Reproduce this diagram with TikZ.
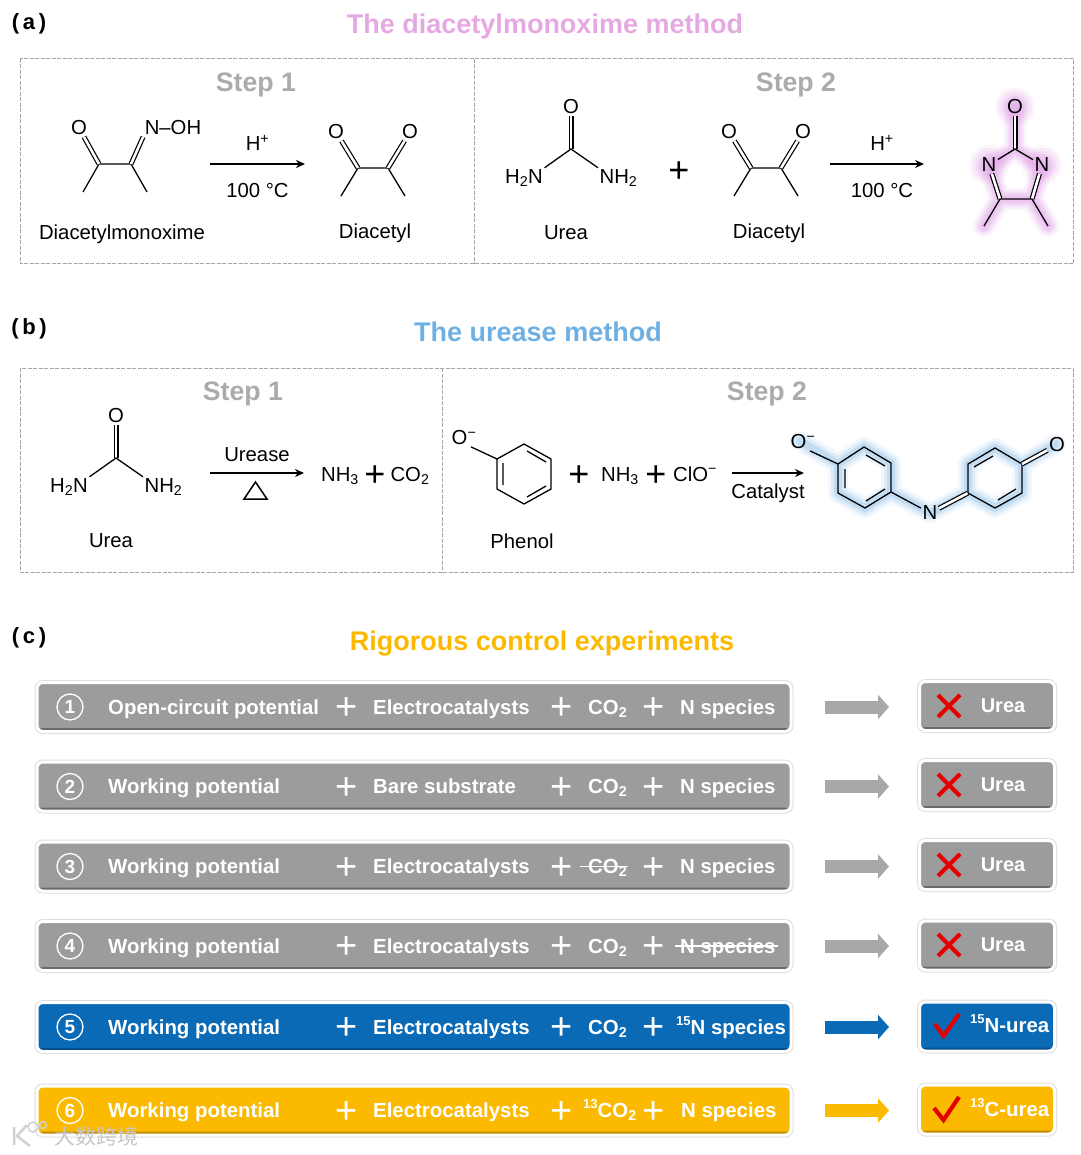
\documentclass[tikz,border=0pt]{standalone}
\usepackage{fontspec}
\setmainfont{Liberation Sans}
\newfontfamily\cjkfont{Noto Sans CJK SC}
\usetikzlibrary{arrows.meta}

\definecolor{barG}{HTML}{9C9C9C}
\definecolor{barGd}{HTML}{6A6A6A}
\definecolor{barB}{HTML}{0A6AB6}
\definecolor{barBd}{HTML}{064E8C}
\definecolor{barY}{HTML}{FBB900}
\definecolor{barYd}{HTML}{C08E00}
\definecolor{arrG}{HTML}{A8A8A8}
\definecolor{pinkglow}{HTML}{DFA0E6}
\definecolor{blueglow}{HTML}{8FC0EA}
\definecolor{ttlpink}{HTML}{E6A8E2}
\definecolor{ttlblue}{HTML}{6FB0E2}

\newcommand{\txtsize}{\fontsize{20.3}{24}\selectfont}
\newcommand{\isotop}[1]{\raisebox{0.42em}{\fontsize{13}{13}\selectfont #1}}

\tikzset{
  lbl/.style={font=\txtsize, inner sep=1pt},
  atom/.style={font=\txtsize, inner sep=1.5pt},
  bond/.style={line width=1.3pt},
  dbl/.style={line width=1.2pt, double, double distance=2.6pt},
  rxn/.style={line width=2pt, -{Stealth[length=9pt,width=8pt]}},
  bigplus/.style={font=\fontsize{36}{36}\selectfont, inner sep=0pt},
  ttl/.style={font=\fontsize{27}{30}\bfseries\selectfont},
  steplbl/.style={font=\fontsize{26.7}{30}\bfseries\selectfont, text=black!33},
  panel/.style={font=\fontsize{22}{26}\bfseries\selectfont},
  dashbox/.style={draw=black!35, line width=1pt, dash pattern=on 4pt off 1.5pt},
  barbox/.style={rounded corners=6pt, fill=bar#1, draw=white, line width=3pt,
    preaction={draw=black!13, line width=5pt},
    path picture={\fill[bar#1d] ([yshift=3.5pt]path picture bounding box.south west)
      rectangle (path picture bounding box.south east);}},
  bartxt/.style={anchor=base west, yshift=-7pt, text=white, inner sep=0pt,
    font=\fontsize{20.4}{24}\bfseries\selectfont},
  barplus/.style={text=white, inner sep=0pt, font=\fontsize{38}{38}\selectfont},
  numc/.style={circle, draw=white, line width=1.3pt, minimum size=26pt, inner sep=0pt,
    text=white, font=\fontsize{19}{20}\bfseries\selectfont},
  strike/.style={draw=white, line width=1.4pt},
  markred/.style={draw=red!90!black, line width=4.2pt, line join=miter},
}

% one diacetyl unit, #3 is the prefix of its names
\newcommand{\diacetylmol}[3]{
  \begin{scope}[shift={(#1,#2)}]
    \coordinate (#3cl) at (-15,0);
    \coordinate (#3cr) at (15,0);
    \coordinate (#3ml) at (-32,28);
    \coordinate (#3mr) at (32,28);
    \node[atom] (#3ol) at (-37,-36) {O};
    \node[atom] (#3or) at (37,-36) {O};
    \draw[bond] (#3ml) -- (#3cl) -- (#3cr) -- (#3mr);
    \draw[dbl] (#3cl) -- (#3ol);
    \draw[dbl] (#3cr) -- (#3or);
  \end{scope}
}
% one urea unit
\newcommand{\ureamol}[3]{
  \begin{scope}[shift={(#1,#2)}]
    \coordinate (#3c) at (0,0);
    \node[atom] (#3o) at (0,-42) {O};
    \node[atom] (#3nl) at (-47,29) {H\textsubscript{2}N};
    \node[atom] (#3nr) at (47.5,29) {NH\textsubscript{2}};
    \draw[dbl] (#3c) -- (#3o);
    \draw[bond] (#3nl.north east) -- (#3c) -- (#3nr.north west);
  \end{scope}
}

\begin{document}
\begin{tikzpicture}[x=1pt, y=-1pt]
  \useasboundingbox (0,0) rectangle (1080,1155);

  % panel headings
  \node[panel] (pa) at (29,24) {(\,a\,)};
  \node[panel] (pb) at (29,329) {(\,b\,)};
  \node[panel] (pc) at (29,638) {(\,c\,)};
  \node[ttl, text=ttlpink] (ta) at (545,27) {The diacetylmonoxime method};
  \node[ttl, text=ttlblue] (tb) at (538,332) {The urease method};
  \node[ttl, text=barY] (tc) at (542,644) {Rigorous control experiments};

  % dashed frames
  \draw[dashbox] (20,59) rectangle (1073,264);
  \draw[dashbox] (474,59) -- (474,264);
  \draw[dashbox] (20,368) rectangle (1073,572);
  \draw[dashbox] (442,368) -- (442,572);
  \node[steplbl] (s1a) at (256,85) {Step 1};
  \node[steplbl] (s2a) at (796,85) {Step 2};
  \node[steplbl] (s1b) at (243,394) {Step 1};
  \node[steplbl] (s2b) at (767,394) {Step 2};

  % (a) step 1
  \coordinate (dmcl) at (99,164);
  \coordinate (dmcr) at (131,164);
  \node[atom] (dmo) at (79,128) {O};
  \node[atom] (dmn) at (173,128) {N–OH};
  \draw[bond] (83,192) -- (dmcl) -- (dmcr) -- (147,192);
  \draw[dbl] (dmcl) -- (dmo);
  \draw[dbl] (dmcr) -- (dmn.south west);
  \node[lbl] (ldm) at (122,234) {Diacetylmonoxime};
  \coordinate (a1s) at (210,164);
  \coordinate (a1e) at (305,164);
  \draw[rxn] (a1s) -- node[lbl, above=11pt] {H\textsuperscript{+}} node[lbl, below=17pt] {100 °C} (a1e);
  \diacetylmol{373}{168}{da}
  \node[lbl] (lda) at (375,233) {Diacetyl};

  % (a) step 2
  \ureamol{571}{149}{ua}
  \node[lbl] (lua) at (566,233) {Urea};
  \node[bigplus] (pl1) at (679,172) {+};
  \diacetylmol{766}{168}{db}
  \node[lbl] (ldb) at (769,233) {Diacetyl};
  \coordinate (a2s) at (830,164);
  \coordinate (a2e) at (924,164);
  \draw[rxn] (a2s) -- node[lbl, above=11pt, xshift=5pt] {H\textsuperscript{+}} node[lbl, below=17pt, xshift=5pt] {100 °C} (a2e);

  % pink product
  \foreach \w/\o in {22/0.12, 17/0.18, 12/0.25, 7/0.3}
    \draw[pinkglow, line width=\w pt, opacity=\o, line cap=round, line join=round]
      (1015,107) -- (1015,149) (989,167) -- (1015,149) -- (1042,167)
      (989,167) -- (1000,199) -- (1032,199) -- (1042,167)
      (984,226) -- (1000,199) (1032,199) -- (1048,226);
  \foreach \r/\o in {20/0.1, 17/0.14, 14/0.18, 11/0.2}
    \fill[pinkglow, opacity=\o] (1015,107) circle (\r pt) (989,165) circle (\r pt) (1042,165) circle (\r pt);
  \coordinate (imc) at (1015,149);
  \coordinate (imcl) at (1000,199);
  \coordinate (imcr) at (1032,199);
  \node[atom] (imo) at (1015,107) {O};
  \node[atom] (imnl) at (989,165) {N};
  \node[atom] (imnr) at (1042,165) {N};
  \draw[dbl] (imc) -- (imo);
  \draw[bond] (imnl) -- (imc) -- (imnr);
  \draw[dbl] (imnl) -- (imcl);
  \draw[dbl] (imnr) -- (imcr);
  \draw[bond] (984,226) -- (imcl) -- (imcr) -- (1048,226);

  % (b) step 1
  \ureamol{116}{458}{ub}
  \node[lbl] (lub) at (111,541) {Urea};
  \coordinate (a3s) at (210,473);
  \coordinate (a3e) at (304,473);
  \draw[rxn] (a3s) -- node[lbl, above=9pt] {Urease} (a3e);
  \draw[line width=1.5pt, line join=miter] (244,499) -- (255.5,482) -- (267,499) -- cycle;
  \node[lbl] (nh1) at (340,476) {NH\textsubscript{3}};
  \node[bigplus] (pl2) at (375,476) {+};
  \node[lbl] (co1) at (410,476) {CO\textsubscript{2}};

  % (b) step 2, phenol
  \node[atom] (pho) at (464,438) {O\textsuperscript{−}};
  \draw[bond] ([xshift=-7pt]pho.south east) -- (497,459);
  \draw[bond] (497,459) -- (524,444) -- (551,459) -- (551,489) -- (524,504) -- (497,489) -- cycle;
  \draw[bond] (503,463) -- (503,485) (527,451) -- (546,462) (546,486) -- (527,497);
  \node[lbl] (lph) at (522,541) {Phenol};
  \node[bigplus] (pl3) at (579,476) {+};
  \node[lbl] (nh2) at (620,476) {NH\textsubscript{3}};
  \node[bigplus] (pl4) at (656,476) {+};
  \node[lbl] (clo) at (695,474) {ClO\textsuperscript{−}};
  \coordinate (a4s) at (732,473);
  \coordinate (a4e) at (804,473);
  \draw[rxn] (a4s) -- (a4e);
  \node[lbl] (lcat) at (768,493) {Catalyst};

  % blue product
  \foreach \w/\o in {20/0.12, 14/0.22, 8/0.35}
    \draw[blueglow, line width=\w pt, opacity=\o, line cap=round, line join=round]
      (800,441) -- (838,464)
      (838,464) -- (864,447) -- (891,463) -- (891,492) -- (865,508) -- (838,493) -- cycle
      (891,492) -- (930,513) -- (968,493) -- (968,464) -- (995,448) -- (1022,464) -- (1056,444)
      (1022,464) -- (1022,493) -- (995,508) -- (968,493);
  \node[atom] (ino) at (803,442) {O\textsuperscript{−}};
  \node[atom] (inn) at (930,513) {N};
  \node[atom] (ink) at (1057,445) {O};
  \draw[bond] ([xshift=-7pt]ino.south east) -- (838,464);
  \draw[bond] (838,464) -- (864,447) -- (891,463) -- (891,492) -- (865,508) -- (838,493) -- cycle;
  \draw[bond] (845,469) -- (845,488) (866,455) -- (885,466) (885,489) -- (866,501);
  \draw[bond] (891,492) -- (inn);
  \draw[dbl] (inn) -- (968,493);
  \draw[bond] (968,493) -- (968,464) -- (995,448) -- (1022,464) -- (1022,493) -- (995,508) -- cycle;
  \draw[bond] (974,467) -- (993,456) (998,500) -- (1016,489);
  \draw[dbl] (1022,464) -- (ink);

  % (c) bars, result boxes and arrows
  \foreach \n/\y/\ry/\c in {1/707/706/G, 2/786.5/785/G, 3/866.5/865/G, 4/946/945.5/G, 5/1027/1026.5/B, 6/1110.5/1109.5/Y} {
    \node[barbox=\c, minimum width=754pt, minimum height=49pt] (bar\n) at (414,\y) {};
    \node[barbox=\c, minimum width=135pt, minimum height=49pt] (res\n) at (987,\ry) {};
    \node[numc] (num\n) at (70,\y) {\n};
    \foreach \px in {346.5,561.5}
      \node[barplus] at (\px,\y+2) {+};
  }
  \foreach \n/\c in {1/arrG, 2/arrG, 3/arrG, 4/arrG, 5/barB, 6/barY}
    \draw[\c, line width=13pt, -{Triangle[length=11pt,width=24pt]}, shorten <=32pt, shorten >=29pt]
      (bar\n.east) -- (bar\n.east -| res\n.west);

  % texts in the bars
  \node[bartxt] (wp1) at (108,707) {Open-circuit potential};
  \foreach \n/\y in {2/786.5, 3/866.5, 4/946, 5/1027, 6/1110.5}
    \node[bartxt] (wp\n) at (108,\y) {Working potential};
  \foreach \n/\y in {1/707, 3/866.5, 4/946, 5/1027, 6/1110.5}
    \node[bartxt] (el\n) at (373,\y) {Electrocatalysts};
  \node[bartxt] (el2) at (373,786.5) {Bare substrate};
  \foreach \n/\y in {1/707, 2/786.5, 3/866.5, 4/946, 5/1027}
    \node[bartxt] (co\n) at (588,\y) {CO\textsubscript{2}};
  \node[bartxt] (co6) at (583,1110.5) {\isotop{13}CO\textsubscript{2}};
  \foreach \n/\y in {1/709, 2/788.5, 3/868.5, 4/948, 5/1029, 6/1112.5}
    \node[barplus] (pp\n) at (654,\y) {+};
  \foreach \n/\y in {1/707, 2/786.5, 3/866.5, 4/946}
    \node[bartxt] (sp\n) at (680,\y) {N species};
  \node[bartxt] (sp5) at (676,1027) {\isotop{15}N species};
  \node[bartxt] (sp6) at (681,1110.5) {N species};
  % struck out
  \draw[strike] (580,866.5) -- (628,866.5);
  \draw[strike] (675,946) -- (778,946);

  % results
  \foreach \n/\y in {1/705, 2/784, 3/864, 4/944} {
    \node[bartxt, anchor=base, font=\fontsize{20}{24}\bfseries\selectfont] (ur\n) at (1003,\y) {Urea};
    \draw[markred, shift={(949,\y+1)}] (-11,-11) -- (11,11) (-11,11) -- (11,-11);
  }
  \node[bartxt] (ur5) at (970,1025) {\isotop{15}N-urea};
  \node[bartxt] (ur6) at (970,1109) {\isotop{13}C-urea};
  \draw[markred, shift={(947,1026)}] (-12,-2) -- (-3.5,10) -- (12,-12);
  \draw[markred, shift={(947,1110)}] (-13,-2) -- (-3.5,10) -- (12,-13);

  % mark in the corner
  \node[text=black!22, inner sep=0pt, font=\fontsize{21}{24}\cjkfont\selectfont] (wm) at (96,1136) {大数跨境};
  \draw[black!18, line width=2.5pt] (14,1127) -- (14,1145) (27,1125) -- (17,1136) -- (30,1146);
  \draw[black!18, line width=1.5pt] (33,1127) circle (5pt) (43,1125) circle (3.5pt);
\end{tikzpicture}
\end{document}
